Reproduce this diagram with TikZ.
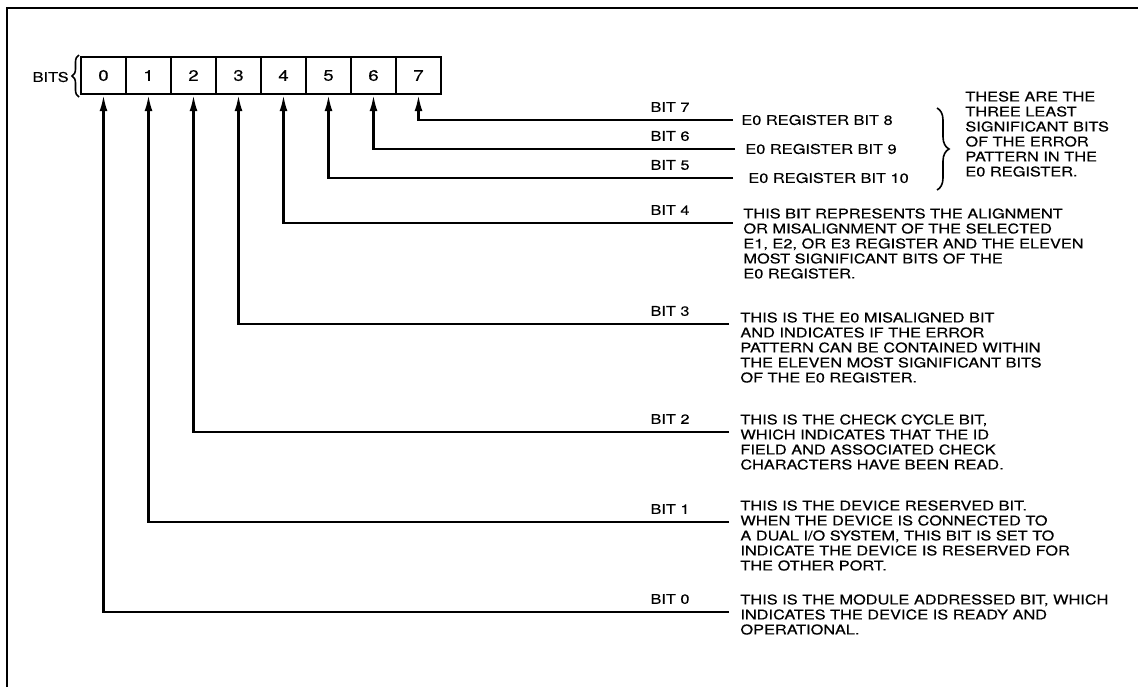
\documentclass[tikz,border=0pt]{standalone}
\usepackage{fontspec}
\setmainfont{TeX Gyre Heros}[FakeStretch=1.22, FakeBold=0.3]
\usepackage{tikz}
\usetikzlibrary{arrows.meta, positioning, decorations.pathreplacing}

\begin{document}
\begin{tikzpicture}[x=0.5pt, y=-0.5pt,
    font=\fontsize{6.7}{7.5}\selectfont,
    bitbox/.style={draw, line width=1.2pt, minimum width=22.5pt,
                   minimum height=18.5pt, inner sep=0pt,
                   font=\fontsize{7.6}{8}\selectfont},
    bitlbl/.style={inner sep=0pt},
    desc/.style={anchor=north west, align=left, inner sep=0pt},
    sigarr/.style={-{Latex[length=8pt,width=4pt]}, line width=1.1pt},
    brc/.style={line width=0.8pt, decorate},
]
\useasboundingbox (0,0) rectangle (1138,687);
%% -- Frame --
\draw[line width=1.2pt] (7,687) -- (7,8) -- (1138,8);
%% -- Register boxes --
\foreach \i in {0,...,7}{
  \node[bitbox] (b\i) at ({103.5+45*\i},75.5) {\i};
}
\node[bitlbl, anchor=east] (bits) at (69,77) {BITS};
\draw[brc, decoration={brace, amplitude=3.5pt}] (79,97) -- (79,55);
%% -- Bit lines, labels and arrows up into the boxes --
\foreach \i/\y/\x in {0/612/729, 1/522/729, 2/432/729, 3/324/729,
                      4/223/733, 5/178/733, 6/149/735, 7/120/733}{
  \coordinate (e\i) at (\x,\y);
  \node[bitlbl] (l\i) at (670,{\y-13}) {BIT \i};
  \draw[sigarr] (e\i) -| (b\i.south);
}
%% -- E0 register bits 8-10 --
\node[bitlbl, right=4pt of e7] (r7) {E0 REGISTER BIT 8};
\node[bitlbl, right=5pt of e6] (r6) {E0 REGISTER BIT 9};
\node[bitlbl, right=7.5pt of e5] (r5) {E0 REGISTER BIT 10};
\draw[brc, decoration={brace, amplitude=6pt}] (937,108) -- (937,190);
\node[desc] (d567) at (965,91) {THESE ARE THE\\THREE LEAST\\SIGNIFICANT BITS\\OF THE ERROR\\PATTERN IN THE\\E0 REGISTER.};
%% -- Descriptions of bits 4-0 --
\node[desc] (d4) at (743,208) {THIS BIT REPRESENTS THE ALIGNMENT\\OR MISALIGNMENT OF THE SELECTED\\E1, E2, OR E3 REGISTER AND THE ELEVEN\\MOST SIGNIFICANT BITS OF THE\\E0 REGISTER.};
\node[desc] (d3) at (740,312) {THIS IS THE E0 MISALIGNED BIT\\AND INDICATES IF THE ERROR\\PATTERN CAN BE CONTAINED WITHIN\\THE ELEVEN MOST SIGNIFICANT BITS\\OF THE E0 REGISTER.};
\node[desc] (d2) at (740,414) {THIS IS THE CHECK CYCLE BIT,\\WHICH INDICATES THAT THE ID\\FIELD AND ASSOCIATED CHECK\\CHARACTERS HAVE BEEN READ.};
\node[desc] (d1) at (740,500) {THIS IS THE DEVICE RESERVED BIT.\\WHEN THE DEVICE IS CONNECTED TO\\A DUAL I/O SYSTEM, THIS BIT IS SET TO\\INDICATE THE DEVICE IS RESERVED FOR\\THE OTHER PORT.};
\node[desc] (d0) at (740,594) {THIS IS THE MODULE ADDRESSED BIT, WHICH\\INDICATES THE DEVICE IS READY AND\\OPERATIONAL.};
\end{tikzpicture}
\end{document}
